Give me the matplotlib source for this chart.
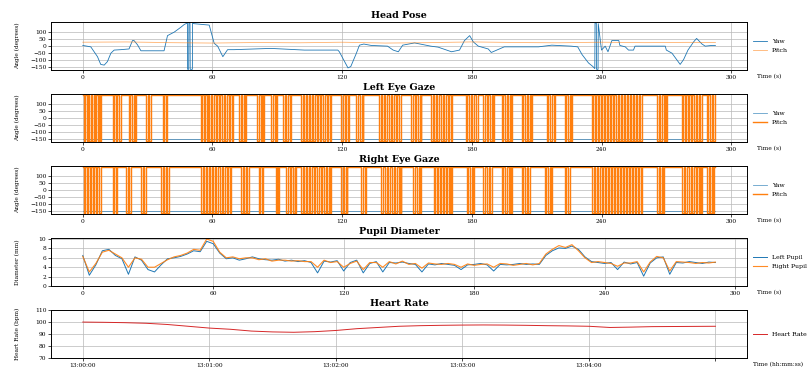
import numpy as np
import matplotlib
matplotlib.use("Agg")
import matplotlib.pyplot as plt

plt.rcParams['font.family'] = ['DejaVu Serif']

# ---------------- data ----------------
# Head pose (seconds, degrees)
head_t = [0, 3.7, 6.8, 8.3, 9.9, 11.4, 13, 14.5, 17.6, 21.4, 23.0, 23.7, 25.3, 26.9, 37.6, 39.2, 42.3,
          45.4, 47.0, 48.4, 48.5, 49.0, 49.1, 49.6, 49.7, 50.7, 50.8, 51.5, 58.5, 60.8, 62.4, 64.8, 67,
          70, 87, 102.5, 118, 118.7, 122.7, 124, 126.6, 128, 130, 133.5, 141, 143.6, 146, 148, 153.5,
          161, 164.4, 170.6, 174.3, 176.6, 179, 180.7, 183, 187.6, 189, 195, 210.8, 217, 226, 229,
          231, 234, 236, 236.9, 237.0, 237.6, 237.7, 238.4, 238.5, 240, 241.7, 243, 244.8, 248, 248.5,
          251, 252.5, 254.8, 255.5, 269.5, 270, 272.6, 276.4, 278, 280, 282.6, 284, 286.5, 288, 291, 292.7]
head_yaw = [5, -5, -75, -130, -135, -110, -50, -28, -25, -20, 40, 40, 10, -33, -33, 75, 100,
            135, 155, 165, -165, -165, 165, 165, -165, -165, 165, 160, 150, 20, 0, -75, -25,
            -25, -16, -28, -28, -40, -155, -145, -50, 7, 15, 5, 0, -28, -40, 7, 23,
            0, -7, -40, -28, 40, 75, 30, 0, -20, -45, -5, -5, 7, 0, -5,
            -60, -120, -145, -160, 165, 165, -165, -165, 160, -28, 0, -40, 40, 40, 5,
            -5, -28, -28, 0, 0, -28, -50, -130, -95, -28, 30, 55, 15, 0, 5, 5]
pitch_t = [0, 20, 40, 60, 80, 100, 120, 140, 160, 180, 200, 220, 240, 260, 280, 292.7]
head_pitch = [28, 30, 25, 22, 26, 24, 28, 22, 25, 30, 26, 24, 28, 25, 27, 26]

# Eye gaze: times (s) at which the pitch angle wraps between +/-180
left_flips = [
    0.5, 1.1, 1.8, 2.4, 3.0, 3.7, 4.3, 5.0, 5.6, 6.3, 7.0, 7.6, 8.0, 8.3,
    13.9, 14.6, 15.3, 16.0, 16.8, 17.6,
    21.3, 22.0, 22.8, 23.5, 24.1, 24.6,
    29.2, 30.0, 30.8, 31.5,
    37.1, 37.8, 38.4, 38.9,
    54.7, 55.3, 56.0, 56.6, 57.3, 58.0, 58.6, 59.3, 60.0, 60.6, 61.5, 62.3, 63.0, 63.7, 64.5, 65.2,
    66.0, 66.8, 67.5, 68.2, 68.9, 69.5,
    72.3, 73.0, 73.8, 74.5, 75.1, 75.6,
    80.7, 81.5, 82.3, 83.0, 83.5, 83.9,
    87.2, 88.0, 88.8, 89.3, 89.6, 89.9,
    92.7, 93.4, 94.1, 94.9, 95.7, 96.4,
    101.0, 101.7, 102.4, 103.1, 103.8, 104.5, 105.2, 105.9, 106.6, 107.4, 108.2, 109.0, 109.7, 110.4,
    111.2, 112.0, 112.8, 113.5, 114.3, 115.0,
    119.6, 120.4, 121.2, 122.0, 122.7, 123.3,
    126.6, 127.4, 128.2, 129.0, 129.5, 129.8,
    137.2, 137.9, 138.6, 139.3, 140.0, 140.8, 141.6, 142.4, 143.1, 143.9, 144.7, 145.5, 146.3, 147.4,
    152.0, 152.8, 153.6, 154.4, 155.2, 156.0, 156.4, 156.7,
    161.3, 162.0, 162.7, 163.4, 164.1, 164.9, 165.7, 166.5, 167.3, 168.1, 168.9, 169.6, 170.2, 170.6,
    177.1, 177.8, 178.6, 179.4, 180.2, 181.0, 181.9, 182.7,
    185.4, 186.1, 186.9, 187.7, 188.5, 189.3, 189.8, 190.1,
    193.8, 194.5, 195.3, 196.1, 196.9, 197.7, 198.1, 198.4,
    203.0, 203.7, 204.5, 205.3, 206.1, 206.9, 207.4, 207.7,
    214.6, 215.4, 216.2, 217.0, 217.8, 218.4,
    223.0, 223.8, 224.6, 225.4, 225.9, 226.2,
    235.5, 236.2, 236.9, 237.6, 238.3, 239.0, 239.7, 240.4, 241.1, 241.8, 242.5, 243.2, 243.9, 244.6,
    245.3, 246.0, 246.7, 247.4, 248.1, 248.8, 249.5, 250.2, 250.9, 251.6, 252.3, 253.0, 253.7, 254.4,
    255.1, 255.8, 256.5, 257.2, 258.0, 258.7,
    265.6, 266.4, 267.2, 268.0, 268.8, 269.6, 270.0, 270.3,
    277.2, 277.9, 278.6, 279.3, 280.0, 280.7, 281.4, 282.1, 282.8, 283.5, 284.2, 284.9, 285.7, 286.5,
    288.8, 289.5, 290.2, 290.9, 291.7, 292.5]
right_flips = [
    0.5, 1.2, 1.9, 2.6, 3.3, 4.0, 4.7, 5.4, 6.1, 6.8, 7.5, 8.3,
    13.9, 14.5, 15.2, 15.8,
    19.9, 20.7, 21.5, 22.3,
    26.9, 27.7, 28.5, 29.2,
    36.2, 36.9, 37.6, 38.3, 39.1, 39.9,
    54.7, 55.4, 56.1, 56.8, 57.5, 58.2, 58.9, 59.6, 60.3, 61.0, 61.8, 62.6, 63.4, 64.2, 65.0, 65.8,
    66.6, 67.4, 68.0, 68.6,
    73.3, 74.0, 74.7, 75.4, 76.2, 77.0,
    81.6, 82.2, 82.8, 83.4,
    89.5, 90.0, 90.5, 90.9,
    94.1, 94.9, 95.7, 96.5, 97.3, 98.0, 98.4, 98.7,
    101.1, 101.8, 102.5, 103.2, 103.9, 104.6, 105.3, 106.0, 106.8, 107.6, 108.4, 109.2, 110.0, 110.8,
    111.6, 112.4, 113.2, 114.0, 114.5, 115.0,
    119.6, 120.3, 121.0, 121.7, 122.1, 122.4,
    128.9, 129.7, 130.5, 131.2,
    138.2, 139.0, 139.8, 140.6, 141.4, 142.2, 143.0, 143.8, 144.6, 145.4, 146.2, 146.8, 147.1, 147.4,
    153.0, 153.8, 154.6, 155.4, 156.2, 156.7,
    162.3, 163.0, 163.7, 164.4, 165.1, 165.8, 166.5, 167.2, 167.9, 168.6, 169.3, 170.0, 170.3, 170.6,
    177.6, 178.4, 179.2, 180.0, 180.5, 180.8,
    185.4, 186.2, 187.0, 187.8, 188.6, 189.2,
    193.8, 194.6, 195.4, 196.2, 197.0, 197.8, 198.2, 198.4,
    203.0, 203.8, 204.6, 205.4, 206.2, 206.8,
    213.7, 214.5, 215.3, 216.1, 216.6, 217.0,
    223.0, 223.8, 224.6, 225.3,
    235.8, 236.5, 237.2, 237.9, 238.6, 239.3, 240.0, 240.7, 241.4, 242.1, 242.8, 243.5, 244.2, 244.9,
    245.6, 246.3, 247.0, 247.7, 248.4, 249.1, 249.8, 250.5, 251.2, 251.9, 252.6, 253.3, 254.0, 254.7,
    255.4, 256.1, 256.8, 257.5, 258.2, 258.7,
    265.6, 266.4, 267.2, 268.0, 268.5, 268.9,
    277.2, 278.0, 278.8, 279.6, 280.4, 281.2, 282.0, 282.8, 283.6, 284.4, 285.2, 285.8, 286.2, 286.5,
    288.8, 289.6, 290.4, 291.2, 291.7, 292.0]
gaze_high = 165
gaze_low = -160
gaze_yaw_level = -150

# Pupil diameter (mm), sampled every 3 s
pupil_left = [6.5, 2.3, 4.5, 7.5, 7.8, 6.5, 5.8, 2.5, 6.2, 5.5, 3.5, 3.0, 4.5, 5.8, 6.0, 6.3,
              6.8, 7.5, 7.3, 9.5, 9.0, 7.0, 5.8, 6.0, 5.5, 5.8, 6.2, 5.8, 5.6, 5.5, 5.7, 5.3,
              5.5, 5.2, 5.4, 5.0, 2.8, 5.3, 5.1, 5.4, 3.2, 5.0, 5.5, 2.8, 4.8, 5.2, 3.0, 5.0,
              4.9, 5.1, 4.8, 4.6, 3.0, 4.7, 4.5, 4.8, 4.6, 4.4, 3.5, 4.5, 4.6, 4.8, 4.5, 3.2,
              4.6, 4.5, 4.6, 4.8, 4.6, 4.7, 4.6, 6.5, 7.5, 8.1, 8.0, 8.5, 7.8, 6.2, 5.2, 5.0,
              4.8, 5.0, 3.5, 5.1, 4.7, 5.0, 2.1, 4.9, 6.0, 6.2, 2.5, 5.0, 4.9, 5.2, 5.0, 4.8, 5.1, 5.0]
pupil_right = [6.3, 3.0, 4.8, 7.2, 7.6, 6.8, 6.0, 4.0, 6.0, 5.7, 4.0, 4.0, 4.8, 5.6, 6.2, 6.5,
               7.0, 7.8, 7.6, 10.0, 9.5, 7.2, 6.0, 6.2, 5.8, 6.0, 6.0, 5.6, 5.8, 5.3, 5.5, 5.5,
               5.3, 5.4, 5.2, 5.2, 4.0, 5.5, 5.0, 5.2, 4.0, 4.8, 5.3, 3.5, 5.0, 5.0, 4.0, 5.2,
               4.7, 5.3, 4.6, 4.8, 3.8, 4.9, 4.7, 4.6, 4.8, 4.6, 4.0, 4.7, 4.4, 4.6, 4.7, 4.0,
               4.8, 4.7, 4.4, 4.6, 4.8, 4.5, 4.8, 6.8, 7.8, 8.6, 8.2, 8.8, 7.5, 6.0, 5.0, 5.2,
               5.0, 4.8, 4.2, 4.9, 4.9, 5.2, 3.0, 5.1, 6.3, 6.0, 3.2, 5.2, 5.1, 5.0, 4.8, 5.0, 4.9, 5.1]

# Heart rate (bpm), every 10 s starting 13:00:00
hr_values = [100, 99.8, 99.5, 99, 98, 96.5, 95, 94, 92.5, 91.8, 91.5, 92, 93, 94.5, 95.5, 96.5,
             97, 97.3, 97.5, 97.6, 97.5, 97.3, 97, 96.8, 96.5, 95.5, 95.8, 96.2, 96.3, 96.4, 96.5]
hr_tick_labels = ["13:00:00", "13:01:00", "13:02:00", "13:03:00", "13:04:00", ""]

angle_ticks = [-150, -100, -50, 0, 50, 100]
time_ticks = [0, 60, 120, 180, 240, 300]

# ---------------- figure ----------------
fig = plt.figure(figsize=(8.12, 3.73), dpi=100)
gs = fig.add_gridspec(5, 1, left=0.063, right=0.92, top=0.941, bottom=0.040, hspace=0.5)
axes = [fig.add_subplot(gs[i]) for i in range(5)]

TITLE_FS = 6.8
TICK_FS = 4.2
LAB_FS = 4.2
LEG_FS = 4.5
GRID = dict(color='#b8b8b8', linewidth=0.5)


def style(ax, title, ylabel, xlabel):
    ax.set_title(title, fontsize=TITLE_FS, fontweight='bold', pad=3)
    ax.set_ylabel(ylabel, fontsize=LAB_FS, labelpad=2)
    ax.tick_params(labelsize=TICK_FS, length=2, width=0.5, pad=1.5)
    ax.grid(True, **GRID)
    for s in ax.spines.values():
        s.set_linewidth(0.7)
    ax.set_xlabel(xlabel, fontsize=LAB_FS, ha='left')
    ax.xaxis.set_label_coords(1.015, -0.09)
    ax.legend(loc='center left', bbox_to_anchor=(1.0, 0.5), fontsize=LEG_FS,
              frameon=False, handlelength=2.2, borderaxespad=0.6)


# Head pose
ax = axes[0]
ax.plot(head_t, head_yaw, color='#1f77b4', lw=0.6, label='Yaw')
ax.plot(pitch_t, head_pitch, color='#ff7f0e', lw=0.6, alpha=0.6, label='Pitch')
ax.set_ylim(-170, 172)
ax.set_yticks(angle_ticks)
ax.set_xticks(time_ticks)
style(ax, 'Head Pose', 'Angle (degrees)', 'Time (s)')


def gaze_series(flips):
    t = [0.0]
    v = [gaze_high]
    state = gaze_high
    for f in flips:
        t.append(f)
        v.append(state)
        state = gaze_low if state == gaze_high else gaze_high
        t.append(f)
        v.append(state)
    t.append(292.7)
    v.append(state)
    return t, v


for ax, flips, title in [(axes[1], left_flips, 'Left Eye Gaze'), (axes[2], right_flips, 'Right Eye Gaze')]:
    gt, gv = gaze_series(flips)
    ax.plot([0, 292.7], [gaze_yaw_level, gaze_yaw_level], color='#1f77b4', lw=0.6, alpha=0.7, label='Yaw')
    ax.plot(gt, gv, color='#ff7f0e', lw=1.0, label='Pitch')
    ax.set_ylim(-170, 172)
    ax.set_yticks(angle_ticks)
    ax.set_xticks(time_ticks)
    style(ax, title, 'Angle (degrees)', 'Time (s)')

# Pupil
ax = axes[3]
pt = np.arange(len(pupil_left)) * 3.0
ax.plot(pt, pupil_left, color='#1f77b4', lw=0.7, label='Left Pupil')
ax.plot(pt, pupil_right, color='#ff7f0e', lw=0.8, alpha=0.9, label='Right Pupil')
ax.set_ylim(0, 10.2)
ax.set_yticks([0, 2, 4, 6, 8, 10])
ax.set_xticks(time_ticks)
style(ax, 'Pupil Diameter', 'Diameter (mm)', 'Time (s)')

# Heart rate
ax = axes[4]
ht = np.arange(len(hr_values)) * 10.0
ax.plot(ht, hr_values, color='#d62728', lw=0.7, label='Heart Rate')
ax.set_ylim(70, 110)
ax.set_yticks([70, 80, 90, 100, 110])
ax.set_xticks(time_ticks)
ax.set_xticklabels(hr_tick_labels)
style(ax, 'Heart Rate', 'Heart Rate (bpm)', 'Time (hh:mm:ss)')
ax.xaxis.set_label_coords(1.008, -0.09)

for a in axes:
    a.yaxis.set_label_coords(-0.045, 0.5)

fig.savefig('out.png', dpi=100)
